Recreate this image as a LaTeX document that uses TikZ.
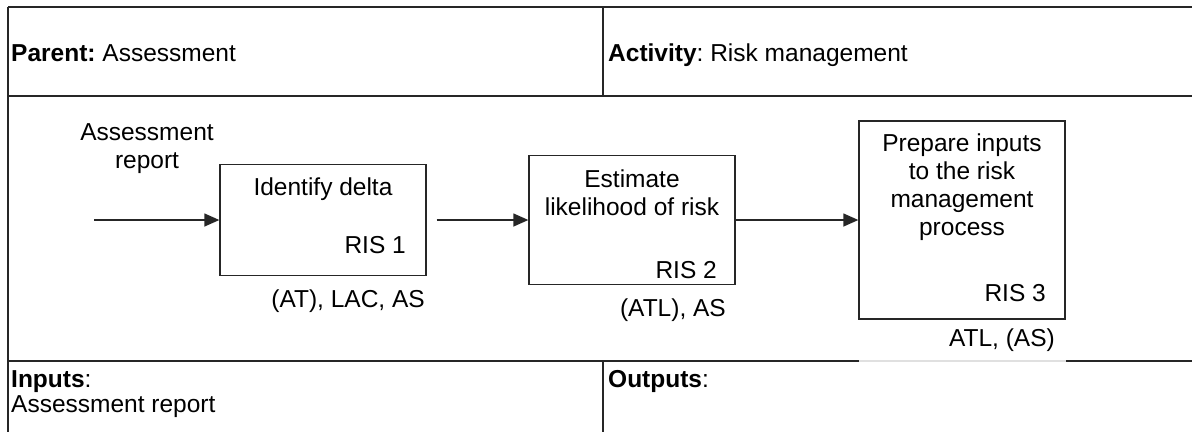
\documentclass[tikz,border=0pt]{standalone}
\usepackage{fontspec}
\setmainfont{Liberation Sans}
\usetikzlibrary{arrows.meta}
\frenchspacing

\begin{document}
\begin{tikzpicture}[x=1pt,y=-1pt,
  every node/.style={inner sep=0pt, font=\fontsize{24.5}{28}\selectfont},
  rule/.style={line width=1.8pt, draw=black!85},
  faintrule/.style={line width=1.2pt, draw=black!12},
  stepbox/.style={draw=black!85, line width=1.3pt, rectangle, fill=white},
  flow/.style={draw=black!85, line width=1.3pt, -{Triangle[length=15pt,width=13pt]}},
  txt/.style={anchor=base, align=center},
  rtxt/.style={anchor=base east}
]
\useasboundingbox (0,0) rectangle (1192,432);

% table frame
\draw[rule] (8,7) -- (1192,7);
\draw[rule] (8,7) -- (8,432);
\draw[rule] (603,7) -- (603,96);
\draw[rule] (8,96) -- (1192,96);
\draw[rule] (8,361) -- (859,361);
\draw[faintrule] (859,361) -- (1066,361);
\draw[rule] (1066,361) -- (1192,361);
\draw[rule] (603,361) -- (603,432);

% header and footer texts (multi-line nodes sit on their last baseline)
\node[anchor=base west] (parent) at (11,61) {\textbf{Parent:} Assessment};
\node[anchor=base west] (activity) at (608,61) {\textbf{Activity}: Risk management};
\node[anchor=base west, align=left] (inputs) at (11,412) {\textbf{Inputs}:\\[-3pt]Assessment report};
\node[anchor=base west] (outputs) at (608,387) {\textbf{Outputs}:};

% process steps
\node[stepbox, minimum width=206pt, minimum height=111pt] (b1) at (323,220) {};
\node[stepbox, minimum width=206pt, minimum height=129pt] (b2) at (632,220) {};
\node[stepbox, minimum width=206pt, minimum height=198pt] (b3) at (962,220) {};

\node[txt] (b1t) at (323,195) {Identify delta};
\node[rtxt] (b1r) at (406,253) {RIS 1};
\node[rtxt] (b1s) at (425,307) {(AT), LAC, AS};

\node[txt] (b2t) at (632,215) {Estimate\\likelihood of risk};
\node[rtxt] (b2r) at (717,278) {RIS 2};
\node[rtxt] (b2s) at (726,316) {(ATL), AS};

\node[txt] (b3t) at (962,235) {Prepare inputs\\to the risk\\management\\process};
\node[rtxt] (b3r) at (1046,301) {RIS 3};
\node[rtxt] (b3s) at (1055,346) {ATL, (AS)};

% input
\node[txt] (inlabel) at (147,168) {Assessment\\report};
\coordinate (in) at (94,220);

% flows
\draw[flow] (in) -- (b1.west);
\draw[flow] ([xshift=10pt]b1.east) -- (b2.west);
\draw[flow] (b2.east) -- (b3.west);
\end{tikzpicture}
\end{document}
